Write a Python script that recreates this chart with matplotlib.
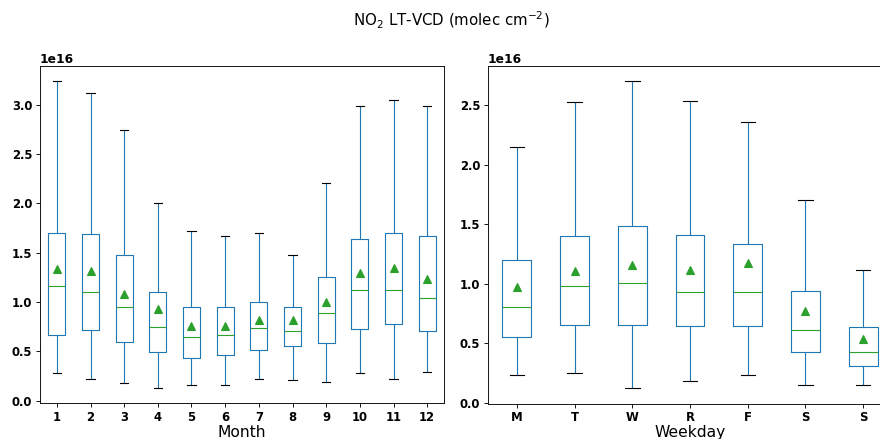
import matplotlib
matplotlib.use("Agg")
import matplotlib.pyplot as plt

# values, in units of 1e16 molec cm-2
months = ["1", "2", "3", "4", "5", "6", "7", "8", "9", "10", "11", "12"]
m_low = [0.280, 0.219, 0.182, 0.125, 0.155, 0.158, 0.222, 0.206, 0.189, 0.280, 0.222, 0.290]
m_q1 = [0.664, 0.711, 0.593, 0.492, 0.431, 0.465, 0.509, 0.549, 0.586, 0.721, 0.779, 0.701]
m_med = [1.163, 1.102, 0.950, 0.745, 0.647, 0.661, 0.735, 0.701, 0.893, 1.122, 1.119, 1.041]
m_q3 = [1.699, 1.685, 1.476, 1.099, 0.950, 0.947, 1.004, 0.947, 1.257, 1.638, 1.699, 1.672]
m_high = [3.240, 3.118, 2.747, 2.000, 1.716, 1.666, 1.700, 1.473, 2.203, 2.993, 3.054, 2.990]
m_mean = [1.338, 1.311, 1.085, 0.927, 0.758, 0.752, 0.819, 0.819, 0.998, 1.298, 1.348, 1.234]

days = ["M", "T", "W", "R", "F", "S", "S"]
d_low = [0.235, 0.249, 0.120, 0.187, 0.232, 0.151, 0.148]
d_q1 = [0.556, 0.654, 0.654, 0.645, 0.642, 0.427, 0.310]
d_med = [0.802, 0.983, 1.006, 0.930, 0.933, 0.615, 0.430]
d_q3 = [1.198, 1.402, 1.480, 1.405, 1.330, 0.939, 0.637]
d_high = [2.151, 2.525, 2.698, 2.536, 2.358, 1.704, 1.115]
d_mean = [0.972, 1.109, 1.159, 1.115, 1.170, 0.771, 0.539]

scale = 1e16


def make_stats(labels, low, q1, med, q3, high, mean):
    stats = []
    for i in range(len(labels)):
        stats.append(dict(label=labels[i], whislo=low[i] * scale, q1=q1[i] * scale,
                          med=med[i] * scale, q3=q3[i] * scale, whishi=high[i] * scale,
                          mean=mean[i] * scale, fliers=[]))
    return stats


def draw(ax, stats, xlabel, ylim):
    ax.bxp(stats, widths=0.5, showmeans=True, showfliers=False,
           boxprops=dict(color="C0"), whiskerprops=dict(color="C0"),
           capprops=dict(color="k"), medianprops=dict(color="C2"),
           meanprops=dict(marker="^", markerfacecolor="C2", markeredgecolor="C2",
                          markersize=7))
    ax.set_ylim(ylim[0] * scale, ylim[1] * scale)
    ax.set_xlabel(xlabel, fontsize=14, labelpad=1)
    for lab in ax.get_xticklabels() + ax.get_yticklabels():
        lab.set_fontweight("bold")
        lab.set_fontsize(10.5)
    ax.yaxis.get_offset_text().set_fontweight("bold")
    ax.yaxis.get_offset_text().set_fontsize(11)


fig = plt.figure(figsize=(11, 5.4875), dpi=80)
W, H = 880, 439
ax1 = fig.add_axes([40 / W, (H - 403) / H, 404 / W, 337 / H])
ax2 = fig.add_axes([488 / W, (H - 403.5) / H, 404 / W, 337.5 / H])

draw(ax1, make_stats(months, m_low, m_q1, m_med, m_q3, m_high, m_mean), "Month", (-0.025, 3.394))
draw(ax2, make_stats(days, d_low, d_q1, d_med, d_q3, d_high, d_mean), "Weekday", (-0.006, 2.827))

fig.suptitle("NO$_2$ LT-VCD (molec cm$^{-2}$)", x=451.5 / W, y=1 - 20 / H, va="center", fontsize=13.5)
fig.savefig("out.png", dpi=80)
